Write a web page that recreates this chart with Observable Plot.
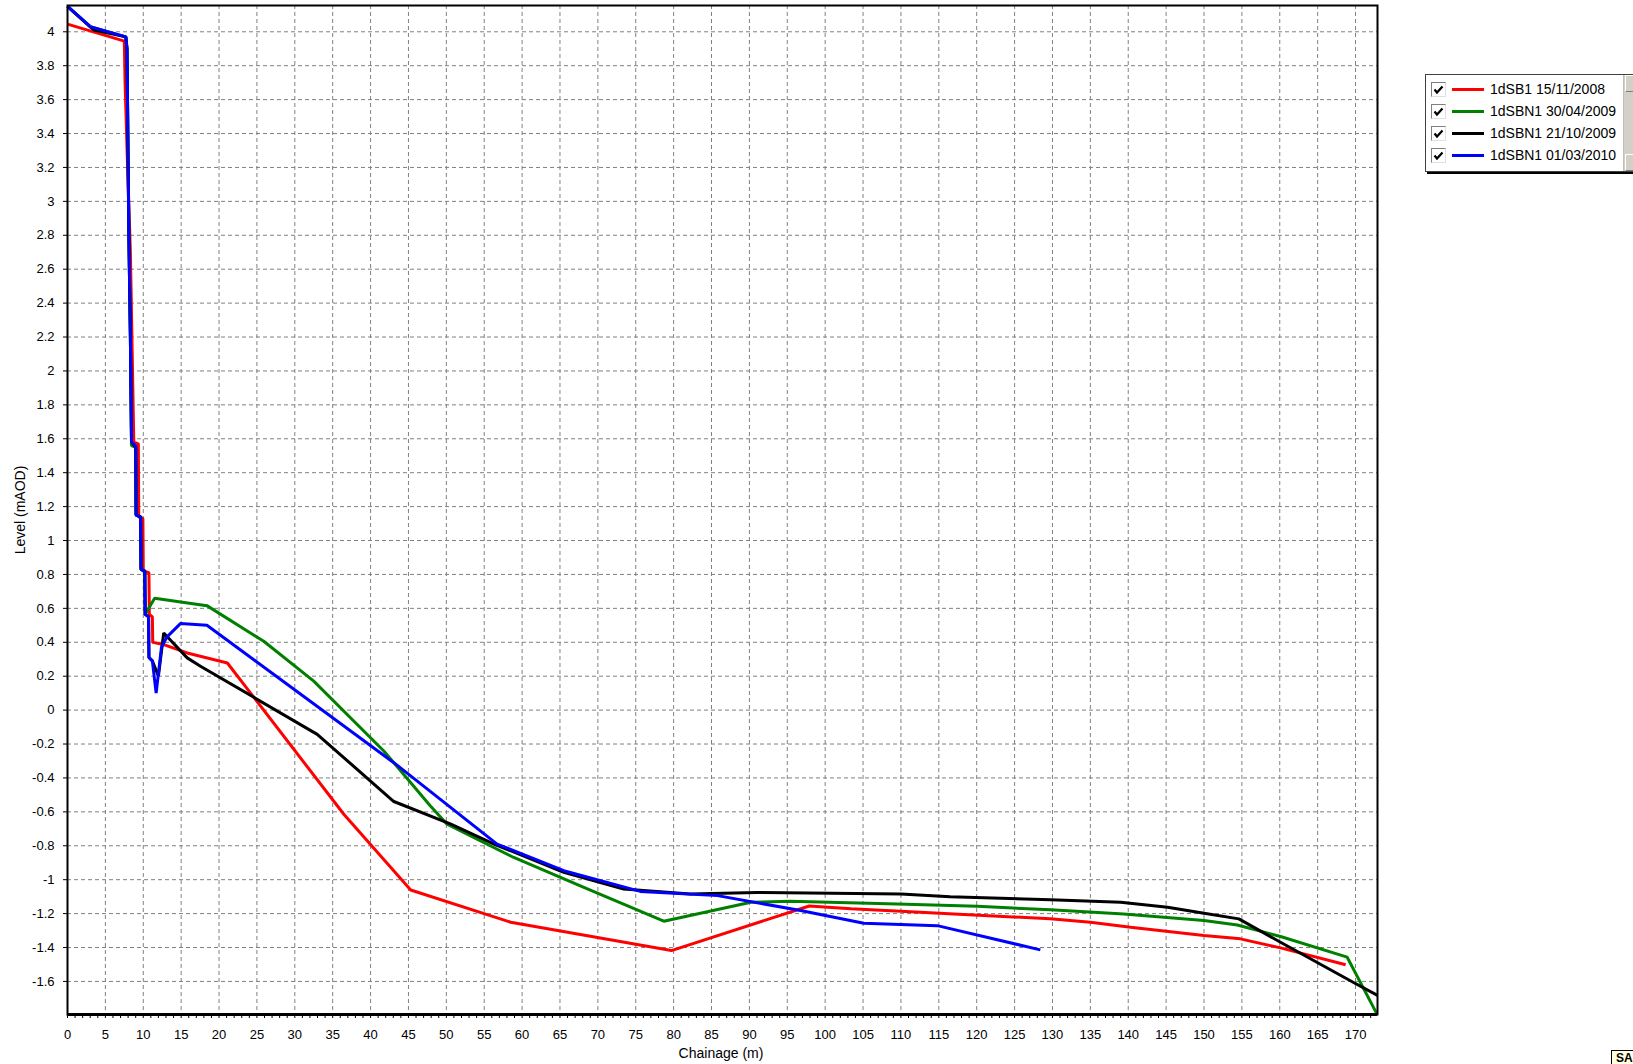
<!DOCTYPE html>
<html><head><meta charset="utf-8">
<script src="https://cdn.jsdelivr.net/npm/d3@7"></script>
<script src="https://cdn.jsdelivr.net/npm/@observablehq/plot@0.6"></script>
<style>
body{margin:0;background:#fff;font-family:"Liberation Sans",Arial,sans-serif;}
#wrap{position:relative;width:1633px;height:1064px;overflow:hidden;background:#fff;}
#chart{position:absolute;left:0;top:0;}
.axl{position:absolute;font-size:14px;color:#000;white-space:nowrap;}
#ylab{left:20px;top:510px;transform:translate(-50%,-50%) rotate(-90deg);}
#xlab{left:721px;top:1053px;transform:translate(-50%,-50%);}
#legend{position:absolute;left:1425px;top:74px;width:226px;height:96px;border:1px solid #404040;background:#fff;box-shadow:2px 2px 0 #000;}
.row{position:absolute;left:0;height:20px;width:200px;}
.cb{position:absolute;left:5px;top:2px;width:13px;height:13px;border-top:1px solid #808080;border-left:1px solid #808080;border-right:1px solid #e0e0e0;border-bottom:1px solid #e0e0e0;background:#fff;}
.sw{position:absolute;left:26px;top:8px;width:32px;height:3px;}
.lt{position:absolute;left:64px;top:1px;font-size:14px;color:#000;white-space:nowrap;}
#scroll{position:absolute;left:197px;top:0;width:20px;height:96px;background:#d4d0c8;border-left:1px solid #c0c0c0;}
.arr{position:absolute;left:1px;width:16px;height:15px;background:#d4d0c8;border-top:1px solid #fff;border-left:1px solid #fff;border-right:1px solid #808080;border-bottom:1px solid #808080;}
#sa{position:absolute;left:1611px;top:1050px;padding:0 4px;height:14px;background:#ffffe1;border:1px solid #000;font-size:12px;font-weight:bold;line-height:14px;}
</style></head><body>
<div id="wrap"><div id="chart"></div>
<div class="axl" id="ylab">Level (mAOD)</div>
<div class="axl" id="xlab">Chainage (m)</div>
<div id="legend"></div>
<div id="sa">SA</div>
</div>
<script>
// Series names and colours
const seriesNames = ["1dSB1 15/11/2008", "1dSBN1 30/04/2009", "1dSBN1 21/10/2009", "1dSBN1 01/03/2010"];
const seriesColors = ["#ff0000", "#008000", "#000000", "#0000ff"];

// 1dSB1 15/11/2008 (red)
const chain_2008a = [0, 7.5, 7.6, 7.9, 8.3, 8.75, 9.35, 9.4, 9.95, 10.0, 10.75, 10.8, 11.2, 11.25, 12.7, 15.8, 21.1, 36.47, 45.3, 58.5, 79.7, 97.9, 103.4, 110, 117, 129.7, 135, 140.3, 150, 154.8, 160.1, 168.7];
const level_2008a = [4.045, 3.945, 3.7, 3.25, 2.7, 1.58, 1.57, 1.14, 1.13, 0.82, 0.81, 0.565, 0.55, 0.40, 0.386, 0.337, 0.278, -0.614, -1.061, -1.251, -1.418, -1.155, -1.172, -1.186, -1.202, -1.231, -1.251, -1.28, -1.329, -1.349, -1.402, -1.502];

// 1dSBN1 30/04/2009 (green)
const chain_2009a = [0, 3.0, 7.7, 7.85, 8.1, 8.3, 8.45, 9.0, 9.05, 9.65, 9.7, 10.2, 10.25, 10.45, 11.5, 18.4, 25.9, 32.5, 41.75, 47.9, 50.1, 58.9, 68.15, 78.7, 90.2, 95.4, 109.5, 120.1, 129.75, 139.4, 150, 154.4, 160.1, 168.9, 172.8];
const level_2009a = [4.15, 4.03, 3.97, 3.9, 2.8, 2.2, 1.56, 1.55, 1.15, 1.14, 0.83, 0.82, 0.565, 0.58, 0.66, 0.616, 0.406, 0.171, -0.241, -0.565, -0.673, -0.869, -1.045, -1.245, -1.133, -1.127, -1.143, -1.157, -1.178, -1.202, -1.241, -1.267, -1.335, -1.457, -1.79];

// 1dSBN1 21/10/2009 (black)
const chain_2009b = [0, 2.5, 3.5, 7.7, 7.85, 8.1, 8.3, 8.45, 9.0, 9.05, 9.65, 9.7, 10.2, 10.25, 10.7, 10.75, 11.2, 12.0, 12.7, 15.8, 17.55, 32.96, 43.07, 50.6, 56.3, 65.5, 73.4, 82.2, 91.0, 110, 116.5, 129.75, 139, 145.2, 150, 154.6, 160.1, 169.8, 172.9];
const level_2009b = [4.15, 4.05, 4.01, 3.97, 3.9, 2.8, 2.2, 1.58, 1.55, 1.15, 1.14, 0.83, 0.82, 0.565, 0.55, 0.31, 0.29, 0.20, 0.455, 0.308, 0.259, -0.143, -0.539, -0.673, -0.79, -0.957, -1.055, -1.084, -1.075, -1.084, -1.10, -1.118, -1.133, -1.163, -1.198, -1.231, -1.369, -1.608, -1.682];

// 1dSBN1 01/03/2010 (blue)
const chain_2010 = [0, 3.0, 7.7, 7.85, 8.1, 8.3, 8.45, 9.0, 9.05, 9.65, 9.7, 10.2, 10.25, 10.7, 10.75, 11.2, 11.7, 12.4, 13.1, 14.9, 18.4, 43.07, 56.7, 65.5, 75.6, 85.8, 96.75, 105.1, 114.8, 128.4];
const level_2010 = [4.15, 4.03, 3.97, 3.9, 2.8, 2.2, 1.58, 1.56, 1.15, 1.14, 0.83, 0.82, 0.565, 0.55, 0.31, 0.29, 0.10, 0.37, 0.43, 0.51, 0.50, -0.31, -0.79, -0.947, -1.069, -1.094, -1.182, -1.257, -1.271, -1.414];

// Axis ticks
const xMajorTicks = d3.range(0, 171, 5);
const xMinorTicks = d3.range(0, 173, 1);
const yTicks = d3.range(-16, 41, 2).map(d => d / 10);
const xDomain = [0, 172.9];
const yDomain = [-1.795, 4.155];

const chains = [chain_2008a, chain_2009a, chain_2009b, chain_2010];
const levels = [level_2008a, level_2009a, level_2009b, level_2010];
const rows = [];
chains.forEach((c, i) => c.forEach((x, j) => rows.push({series: seriesNames[i], chainage: x, level: levels[i][j]})));

const fmtY = d => String(+d.toFixed(1));
const grid = {stroke: "#808080", strokeOpacity: 1, strokeWidth: 1, strokeDasharray: "4,3"};

const chart = Plot.plot({
  width: 1633, height: 1064,
  marginLeft: 67, marginRight: 256, marginTop: 5, marginBottom: 50,
  x: {domain: xDomain},
  y: {domain: yDomain},
  color: {domain: seriesNames, range: seriesColors},
  style: {fontFamily: '"Liberation Sans", Arial, sans-serif', fontSize: "13px", background: "white", color: "black", overflow: "visible"},
  marks: [
    Plot.gridX(xMajorTicks.filter(d => d > 0), grid),
    Plot.gridY(yTicks, grid),
    Plot.axisX(xMinorTicks, {tickSize: 4, tickPadding: 11, tickFormat: d => (d % 5 === 0 ? String(d) : ""), label: null, stroke: "#000"}),
    Plot.axisY(yTicks, {tickSize: 4, tickPadding: 9, tickFormat: fmtY, label: null, stroke: "#000"}),
    Plot.line(rows, {x: "chainage", y: "level", z: "series", stroke: "series", strokeWidth: 3, strokeLinejoin: "miter", strokeLinecap: "butt"}),
    Plot.frame({stroke: "#000", strokeWidth: 2}),
    Plot.ruleY([yDomain[0]], {stroke: "#000", strokeWidth: 3})
  ]
});
document.getElementById("chart").appendChild(chart);

// Legend (HTML)
const leg = document.getElementById("legend");
const checkSvg = '<svg width="13" height="13" viewBox="0 0 13 13"><path d="M2.5 5.5 L5 8.5 L10.5 2.5" stroke="#000" stroke-width="2.2" fill="none"/></svg>';
seriesNames.forEach((name, i) => {
  const r = document.createElement("div");
  r.className = "row";
  r.style.top = (5 + i * 22) + "px";
  r.innerHTML = `<div class="cb">${checkSvg}</div><div class="sw" style="background:${seriesColors[i]}"></div><div class="lt">${name}</div>`;
  leg.appendChild(r);
});
const sc = document.createElement("div");
sc.id = "scroll";
sc.innerHTML = '<div class="arr" style="top:0"></div><div class="arr" style="bottom:0"></div>';
leg.appendChild(sc);
</script>
</body></html>
